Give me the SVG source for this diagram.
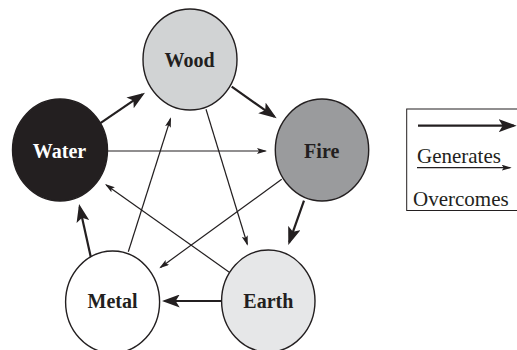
<svg xmlns="http://www.w3.org/2000/svg" width="517" height="350" viewBox="0 0 517 350">
<style>
.node{stroke:#231f20;stroke-width:1.4}
.lbl{font-family:"Liberation Serif","Times New Roman",serif;font-weight:bold;font-size:20px;text-anchor:middle;fill:#231f20}
.leg{font-family:"Liberation Serif","Times New Roman",serif;font-size:21px;fill:#231f20}
.thick{stroke:#231f20;stroke-width:2.2;fill:none;marker-end:url(#ah)}
.thin{stroke:#231f20;stroke-width:1.2;fill:none;marker-end:url(#as)}
</style>
<defs>
<marker id="ah" markerUnits="userSpaceOnUse" viewBox="0 0 18 13" markerWidth="18" markerHeight="13" refX="15" refY="6.5" orient="auto">
<path d="M0,0 L18,6.5 L0,13 L4,6.5 z" fill="#231f20"/>
</marker>
<marker id="as" markerUnits="userSpaceOnUse" viewBox="0 0 10 6" markerWidth="10" markerHeight="6" refX="8.5" refY="3" orient="auto">
<path d="M0,0 L10,3 L0,6 L2,3 z" fill="#231f20"/>
</marker>
</defs>
<rect width="517" height="350" fill="#ffffff"/>
<g id="connectors">
<line class="thick" x1="100" y1="123.3" x2="142.5" y2="94.4"/>
<line class="thick" x1="231.7" y1="86.7" x2="274.2" y2="116.6"/>
<line class="thick" x1="304" y1="200.7" x2="289.3" y2="242.2"/>
<line class="thick" x1="221.7" y1="301" x2="164.7" y2="301"/>
<line class="thick" x1="91" y1="258" x2="79.7" y2="206.9"/>
<line class="thin" x1="107.5" y1="151" x2="265.5" y2="151"/>
<line class="thin" x1="128.3" y1="251.7" x2="170.5" y2="118.7"/>
<line class="thin" x1="206" y1="109.3" x2="247.3" y2="244.3"/>
<line class="thin" x1="281.7" y1="179.3" x2="160.5" y2="267.4"/>
<line class="thin" x1="230" y1="272.7" x2="106.2" y2="184.9"/>
</g>
<g id="wood">
<ellipse class="node" cx="190" cy="59.5" rx="47" ry="50.5" fill="#d1d3d4"/>
<text class="lbl" x="189.5" y="67">Wood</text>
</g>
<g id="water">
<ellipse class="node" cx="60" cy="150" rx="47.5" ry="51" fill="#231f20"/>
<text class="lbl" x="59.5" y="158" style="fill:#ffffff">Water</text>
</g>
<g id="fire">
<ellipse class="node" cx="322" cy="150" rx="46.7" ry="51" fill="#9a9b9d"/>
<text class="lbl" x="321.7" y="158">Fire</text>
</g>
<g id="earth">
<ellipse class="node" cx="268.3" cy="301" rx="46.7" ry="51" fill="#e6e7e8"/>
<text class="lbl" x="268.3" y="308">Earth</text>
</g>
<g id="metal">
<ellipse class="node" cx="112.6" cy="302" rx="47" ry="51" fill="#ffffff"/>
<text class="lbl" x="112.5" y="308">Metal</text>
</g>
<g id="legend">
<rect x="406.7" y="109" width="130" height="101.5" fill="none" stroke="#231f20" stroke-width="1"/>
<line class="thick" x1="418" y1="125.7" x2="513.7" y2="125.7"/>
<text class="leg" x="417" y="163">Generates</text>
<line class="thin" x1="417" y1="167.7" x2="510.2" y2="167.7"/>
<text class="leg" x="413" y="206">Overcomes</text>
</g>
</svg>
